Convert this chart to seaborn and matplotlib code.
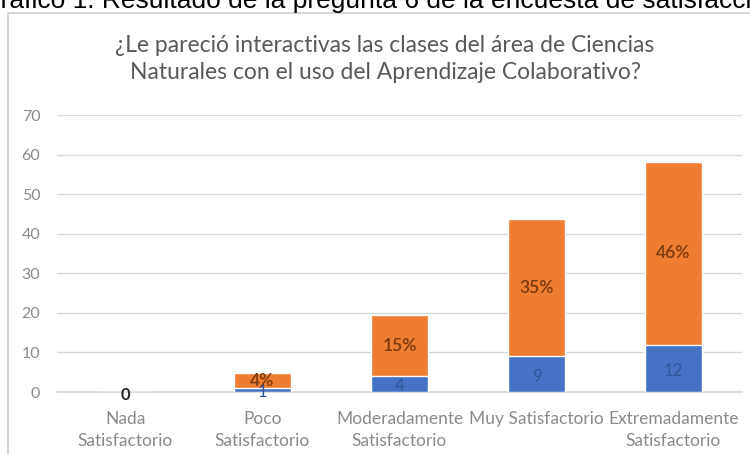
import matplotlib
matplotlib.use("Agg")
import matplotlib.pyplot as plt
import matplotlib.patches as mpatches
import seaborn as sns
import pandas as pd

categories = ["Nada\nSatisfactorio", "Poco\nSatisfactorio", "Moderadamente\nSatisfactorio",
              "Muy Satisfactorio", "Extremadamente\nSatisfactorio"]
counts = [0, 1, 4, 9, 12]
percent_values = [0, 3.8, 15.4, 34.6, 46.2]
percent_labels = ["", "4%", "15%", "35%", "46%"]
yticks = [0, 10, 20, 30, 40, 50, 60, 70]

title = "¿Le pareció interactivas las clases del área de Ciencias\nNaturales con el uso del Aprendizaje Colaborativo?"
caption = "Gráfico 1. Resultado de la pregunta 6 de la encuesta de satisfacción"

sns.set_theme(style="white")
plt.rcParams['font.family'] = ['Lato', 'DejaVu Sans']

df = pd.DataFrame({"cat": categories, "count": counts, "pct": percent_values})
df["total"] = df["count"] + df["pct"]

fig = plt.figure(figsize=(7.5, 4.54), dpi=100)
ax = fig.add_axes([57/750, 1-392/454, (742-57)/750, (392-115)/454])

sns.barplot(data=df, x="cat", y="total", color="#ED7D31", saturation=1, width=0.41, ax=ax, zorder=2)
sns.barplot(data=df, x="cat", y="count", color="#4472C4", saturation=1, width=0.41, ax=ax, zorder=3)

ax.set_ylim(0, 70)
ax.set_yticks(yticks)
ax.set_xlim(-0.5, 4.5)
ax.yaxis.grid(True, color="#d9d9d9", linewidth=1)
ax.set_axisbelow(True)
for s in ["top", "right", "left"]:
    ax.spines[s].set_visible(False)
ax.spines["bottom"].set_color("#d9d9d9")
ax.set_xlabel("")
ax.set_ylabel("")
ax.tick_params(axis="y", length=0, pad=12, labelsize=11.5, labelcolor="#8a8a8a")
ax.tick_params(axis="x", length=0, pad=14, labelsize=12.5, labelcolor="#8a8a8a")
for lbl in ax.get_xticklabels():
    lbl.set_linespacing(1.45)

for i, (c, p, pl) in enumerate(zip(counts, percent_values, percent_labels)):
    if c == 0 and p == 0:
        ax.text(i, -0.8, "0", ha="center", va="center", fontsize=12, color="#262626", fontweight="bold")
        continue
    ax.text(i, c / 2 - 0.6, str(c), ha="center", va="center", fontsize=12, color="#2f5597", zorder=5)
    ax.text(i, c + p / 2, pl, ha="center", va="center", fontsize=12.5, color="#7a3a10",
            fontweight="semibold", zorder=5)

fig.text(385/750, 1-59/454, title, ha="center", va="center", fontsize=16.5, color="#595959", linespacing=1.3)

fig.text(-0.026, 1-8/454, caption, ha="left", va="baseline", fontsize=19, color="black",
         family=["Liberation Sans", "DejaVu Sans"])

rect = mpatches.Rectangle((8/750, -0.1), 1.0, (454-13)/454 + 0.1, transform=fig.transFigure,
                          fill=False, edgecolor="#d0d0d0", linewidth=1.2, clip_on=False)
fig.patches.append(rect)

fig.savefig("out.png", dpi=100)
